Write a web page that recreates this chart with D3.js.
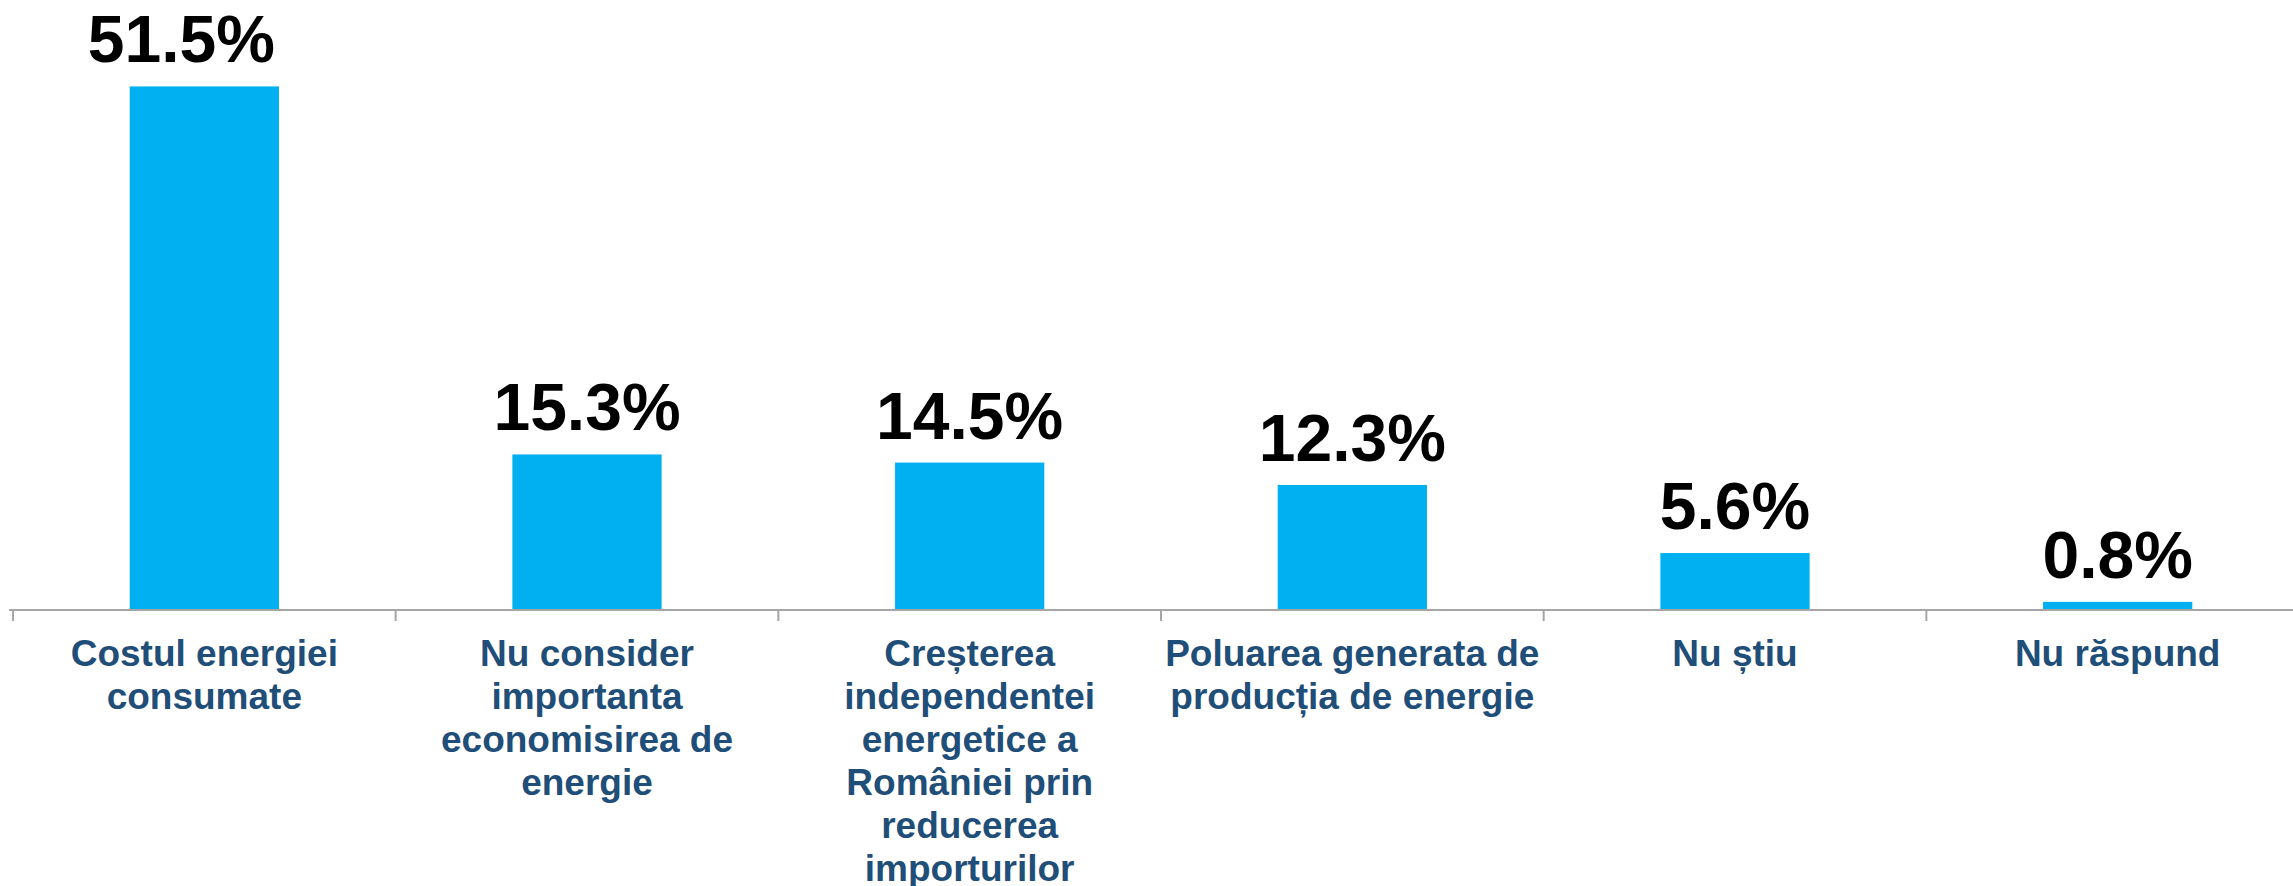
<!DOCTYPE html>
<html>
<head>
<meta charset="utf-8">
<script src="https://cdn.jsdelivr.net/npm/d3@7"></script>
<style>
	html, body { margin: 0; padding: 0; background: #fff; }
	svg { display: block; font-family: "Liberation Sans", Arial, sans-serif; }
</style>
</head>
<body>
<svg id="chart" width="2293" height="886"></svg>
<script>
// categories, with the line breaks the reference uses
var categories = [
	'Costul energiei\nconsumate',
	'Nu consider\nimportanta\neconomisirea de\nenergie',
	'Creșterea\nindependentei\nenergetice a\nRomâniei prin\nreducerea\nimporturilor',
	'Poluarea generata de\nproducția de energie',
	'Nu știu',
	'Nu răspund'
];
var values = [51.5, 15.3, 14.5, 12.3, 5.6, 0.8];
var valueLabels = ['51.5%', '15.3%', '14.5%', '12.3%', '5.6%', '0.8%'];

var svg = d3.select('#chart');

var baseY = 610;

var x = d3.scaleBand()
	.domain(categories)
	.range([13, 2309])
	.padding(0);

var y = d3.scaleLinear()
	.domain([0, 60])
	.range([baseY, 0]);

// bar takes ~39% of each category slot
var barW = x.bandwidth() * 0.39;

var data = categories.map(function(c, i) {
	return { cat: c, value: values[i], label: valueLabels[i] };
});

// bars
svg.append('g').selectAll('rect')
	.data(data)
	.enter().append('rect')
	.attr('x', function(d) { return x(d.cat) + (x.bandwidth() - barW) / 2; })
	.attr('y', function(d) { return y(d.value); })
	.attr('width', barW)
	.attr('height', function(d) { return baseY - y(d.value); })
	.attr('fill', '#00B0F0');

// axis line + ticks at category boundaries
var axis = svg.append('g').attr('class', 'x-axis');
axis.append('line')
	.attr('x1', 9).attr('x2', 2293)
	.attr('y1', baseY).attr('y2', baseY)
	.attr('stroke', '#A6A6A6')
	.attr('stroke-width', 2);

var tickXs = categories.map(function(c) { return x(c); });
axis.selectAll('.tick')
	.data(tickXs)
	.enter().append('line')
	.attr('class', 'tick')
	.attr('x1', function(d) { return d; })
	.attr('x2', function(d) { return d; })
	.attr('y1', baseY)
	.attr('y2', baseY + 11)
	.attr('stroke', '#A6A6A6')
	.attr('stroke-width', 2);

// value labels above bars
// the first label sits a bit left of its bar in the original, nudge it
svg.append('g').selectAll('text')
	.data(data)
	.enter().append('text')
	.attr('x', function(d, i) { return x(d.cat) + x.bandwidth() / 2 + (i === 0 ? -23 : 0); })
	.attr('y', function(d) { return y(d.value) - 24; })
	.attr('text-anchor', 'middle')
	.attr('font-size', 66)
	.attr('font-weight', 'bold')
	.attr('fill', '#000')
	.text(function(d) { return d.label; });

// category labels, multi-line
var catText = svg.append('g').selectAll('text')
	.data(data)
	.enter().append('text')
	.attr('text-anchor', 'middle')
	.attr('font-size', 37)
	.attr('font-weight', 'bold')
	.attr('fill', '#1F4E79');

catText.each(function(d) {
	var cx = x(d.cat) + x.bandwidth() / 2;
	var lines = d.cat.split('\n');
	d3.select(this).selectAll('tspan')
		.data(lines)
		.enter().append('tspan')
		.attr('x', cx)
		.attr('y', function(l, i) { return 666 + i * 43; })
		.text(function(l) { return l; });
});
</script>
</body>
</html>
